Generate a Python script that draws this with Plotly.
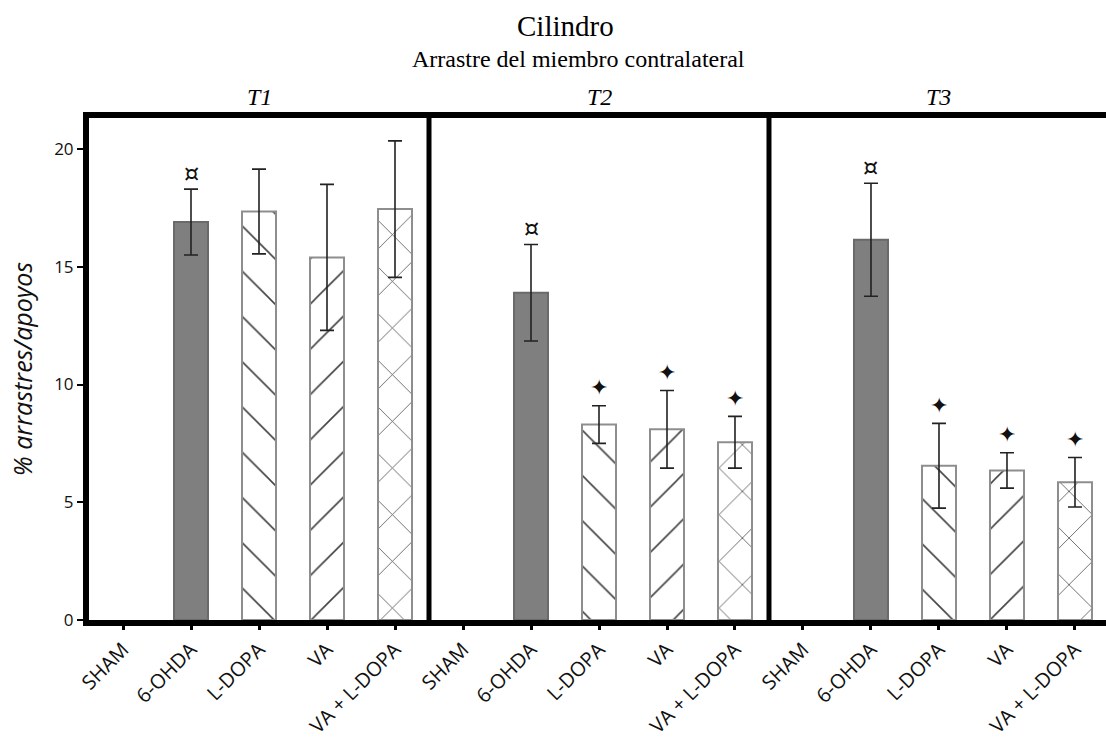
import plotly.graph_objects as go

# ---- data ----
times = ["T1", "T2", "T3"]
treatments = ["SHAM", "6-OHDA", "L-DOPA", "VA", "VA + L-DOPA"]
# mean values per treatment for T1, T2, T3
means = {
    "SHAM":        [0.0, 0.0, 0.0],
    "6-OHDA":      [16.9, 13.9, 16.15],
    "L-DOPA":      [17.35, 8.3, 6.55],
    "VA":          [15.4, 8.1, 6.35],
    "VA + L-DOPA": [17.45, 7.55, 5.85],
}
errors = {
    "SHAM":        [0.0, 0.0, 0.0],
    "6-OHDA":      [1.4, 2.05, 2.4],
    "L-DOPA":      [1.8, 0.8, 1.8],
    "VA":          [3.1, 1.65, 0.75],
    "VA + L-DOPA": [2.9, 1.1, 1.05],
}
signif = {
    "SHAM":        ["", "", ""],
    "6-OHDA":      ["¤", "¤", "¤"],
    "L-DOPA":      ["", "✦", "✦"],
    "VA":          ["", "✦", "✦"],
    "VA + L-DOPA": ["", "✦", "✦"],
}
tick_labels = treatments * 3

styles = {
    "SHAM":        dict(color="white", shape="", fg=""),
    "6-OHDA":      dict(color="#7f7f7f", shape="", fg=""),
    "L-DOPA":      dict(color="white", shape="\\", fg="#444444"),
    "VA":          dict(color="white", shape="/", fg="#444444"),
    "VA + L-DOPA": dict(color="white", shape="x", fg="#555555"),
}

fig = go.Figure()
n = len(treatments)
for ti, tr in enumerate(treatments):
    xs = [g * n + ti for g in range(len(times))]
    st = styles[tr]
    marker = dict(color=st["color"],
                  line=dict(color="#6a6a6a" if tr == "6-OHDA" else "#8e8e8e",
                            width=0 if tr == "SHAM" else 2))
    if st["shape"]:
        marker["pattern"] = dict(shape=st["shape"], fgcolor=st["fg"], bgcolor="white",
                                 size=32 if st["shape"] != "x" else 33, solidity=0.05,
                                 fillmode="replace")
    fig.add_trace(go.Bar(
        x=xs, y=means[tr], width=0.5, marker=marker, showlegend=False,
        error_y=dict(type="data", array=errors[tr], visible=tr != "SHAM",
                     color="#222222", thickness=1.6, width=7),
    ))
    for g in range(len(times)):
        s = signif[tr][g]
        if s:
            fig.add_annotation(
                x=xs[g], y=means[tr][g] + errors[tr][g], xref="x", yref="y",
                text=s, showarrow=False, yanchor="middle",
                yshift=15 if s == "¤" else 18,
                font=dict(family="DejaVu Sans", size=24 if s == "¤" else 22,
                          color="#111111"))

# divider lines between time panels
for b in [4.5, 9.5]:
    fig.add_shape(type="line", x0=b, x1=b, xref="x", y0=0, y1=1, yref="y domain",
                  line=dict(color="black", width=5), layer="above")

# time labels
time_x = [2, 7, 12]
for t, xv in zip(times, time_x):
    fig.add_annotation(x=xv, xref="x", y=1.0, yref="y domain", yanchor="middle", yshift=21,
                       text="<i>" + t + "</i>", showarrow=False,
                       font=dict(family="Liberation Serif", size=24, color="black"))

# titles
fig.add_annotation(x=0.4685, y=1.183, xref="paper", yref="paper",
                   text="Cilindro", showarrow=False, yanchor="middle",
                   font=dict(family="Liberation Serif", size=29, color="black"))
fig.add_annotation(x=0.4818, y=1.117, xref="paper", yref="paper",
                   text="Arrastre del miembro contralateral", showarrow=False, yanchor="middle",
                   font=dict(family="Liberation Serif", size=24, color="black"))

fig.update_layout(
    width=1106, height=738,
    margin=dict(l=89, r=0, t=118, b=118, autoexpand=False),
    paper_bgcolor="white", plot_bgcolor="white",
    barmode="overlay",
    xaxis=dict(range=[-0.5, 14.456], tickmode="array", tickvals=list(range(15)),
               ticktext=tick_labels, tickangle=-45,
               showline=True, linecolor="black", linewidth=6, mirror=True,
               ticks="outside", ticklen=4, tickwidth=3, tickcolor="black",
               showgrid=False, zeroline=False,
               tickfont=dict(family="Open Sans", size=20, color="#111111")),
    yaxis=dict(range=[0, 21.32], tickvals=[0, 5, 10, 15, 20],
               showline=True, linecolor="black", linewidth=6,
               ticks="outside", ticklen=6, tickwidth=2, tickcolor="black",
               showgrid=False, zeroline=False,
               tickfont=dict(family="Open Sans", size=17, color="#111111"),
               title=dict(text="<i>% arrastres/apoyos</i>", standoff=16,
                          font=dict(family="Open Sans", size=25, color="#111111"))),
)

fig.write_html("out.html")
